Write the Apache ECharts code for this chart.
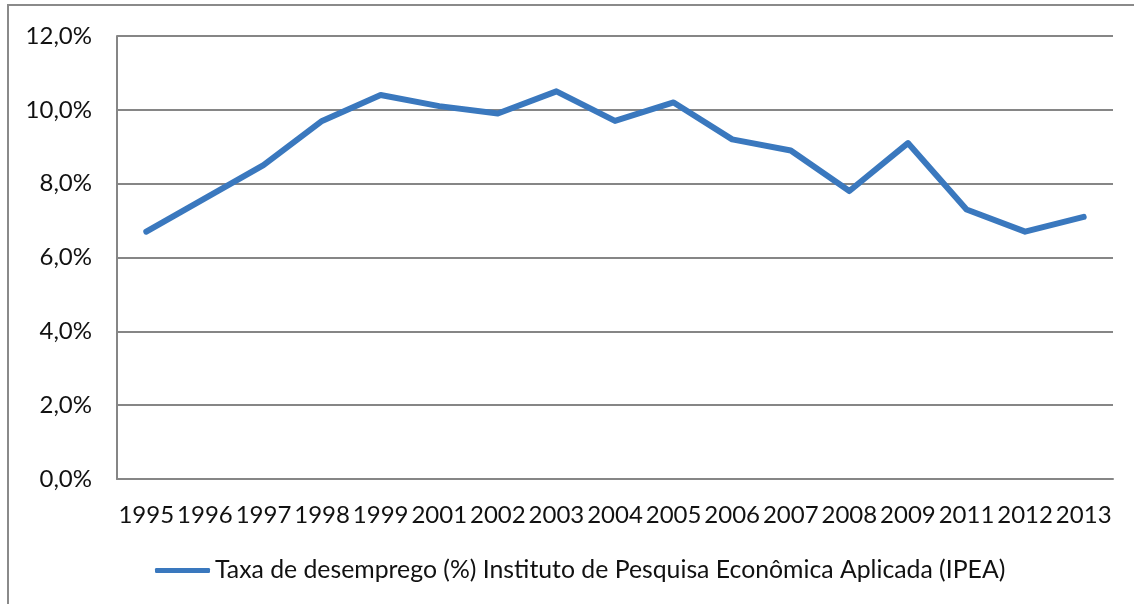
<!DOCTYPE html>
<html>
<head>
<meta charset="utf-8">
<script src="https://cdn.jsdelivr.net/npm/echarts@6/dist/echarts.min.js"></script>
<style>
html,body{margin:0;padding:0;background:#fff;}
#chart{width:1134px;height:604px;}
</style>
</head>
<body>
<div id="chart"></div>
<script>
const years = ['1995','1996','1997','1998','1999','2001','2002','2003','2004','2005','2006','2007','2008','2009','2011','2012','2013'];
const unemployment = [6.7, 7.6, 8.5, 9.7, 10.4, 10.1, 9.9, 10.5, 9.7, 10.2, 9.2, 8.9, 7.8, 9.1, 7.3, 6.7, 7.1];
const seriesName = 'Taxa de desemprego (%) Instituto de Pesquisa Econômica Aplicada (IPEA)';

const chart = echarts.init(document.getElementById('chart'));
const font = 'Lato, "Open Sans", sans-serif';
chart.setOption({
  animation: false,
  backgroundColor: '#fff',
  graphic: [{
    type: 'rect',
    shape: {x: 8, y: 5, width: 1140, height: 620},
    style: {fill: 'none', stroke: '#8a8a8a', lineWidth: 2},
    silent: true, z: -1
  }],
  grid: {left: 117, right: 21, top: 36, bottom: 125},
  legend: {
    data: [seriesName],
    left: 155, top: 558, padding: 0,
    icon: 'roundRect',
    itemWidth: 55, itemHeight: 5, itemGap: 10,
    textStyle: {fontFamily: font, fontSize: 24.8, color: '#111'}
  },
  xAxis: {
    type: 'category',
    data: years,
    boundaryGap: true,
    axisLine: {lineStyle: {color: '#868686', width: 2}},
    axisTick: {show: false},
    axisLabel: {interval: 0, margin: 24, fontFamily: font, fontSize: 24, color: '#111'}
  },
  yAxis: {
    type: 'value',
    min: 0, max: 12, interval: 2,
    axisLine: {show: true, lineStyle: {color: '#868686', width: 2}},
    axisTick: {show: false},
    splitLine: {lineStyle: {color: '#868686', width: 2}},
    axisLabel: {
      margin: 25, fontFamily: font, fontSize: 24, color: '#111',
      formatter: v => v.toFixed(1).replace('.', ',') + '%'
    }
  },
  series: [{
    name: seriesName,
    type: 'line',
    data: unemployment,
    symbol: 'none',
    lineStyle: {color: '#3A78BE', width: 6, cap: 'round', join: 'round'},
    itemStyle: {color: '#3A78BE'}
  }]
});
</script>
</body>
</html>
